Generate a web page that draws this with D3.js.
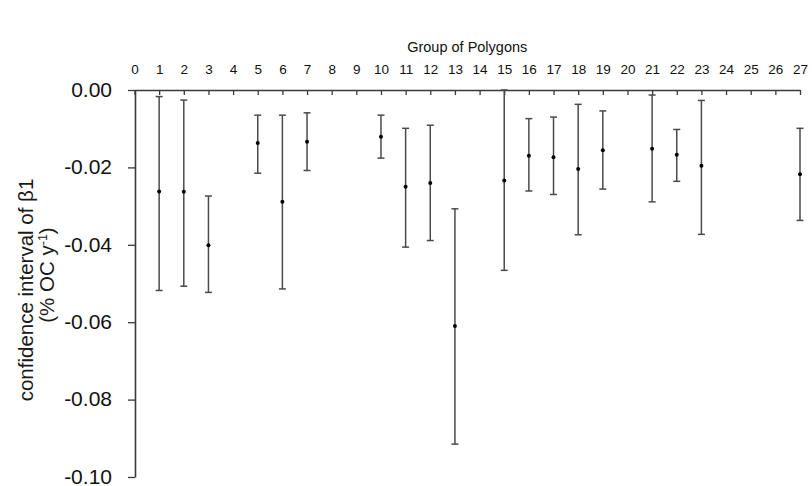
<!DOCTYPE html>
<html>
<head>
<meta charset="utf-8">
<script src="https://cdn.jsdelivr.net/npm/d3@7"></script>
<style>
  html, body { margin: 0; padding: 0; background: #fff; }
  svg { display: block; font-family: "Liberation Sans", Arial, sans-serif; }
</style>
</head>
<body>
<svg id="chart" width="812" height="486"></svg>
<script>
// Groups of polygons and their confidence intervals of beta1
const groups = [1, 2, 3, 5, 6, 7, 10, 11, 12, 13, 15, 16, 17, 18, 19, 21, 22, 23, 27];
const estimate = [-0.0262, -0.0263, -0.0401, -0.0137, -0.0289, -0.0134, -0.0121, -0.0250, -0.0240, -0.0610,
                  -0.0234, -0.0170, -0.0174, -0.0204, -0.0156, -0.0152, -0.0167, -0.0196, -0.0218];
const upper = [-0.0017, -0.0026, -0.0274, -0.0065, -0.0065, -0.0059, -0.0065, -0.0099, -0.0091, -0.0307,
               0.0000, -0.0074, -0.0070, -0.0037, -0.0054, -0.0013, -0.0102, -0.0027, -0.0099];
const lower = [-0.0518, -0.0507, -0.0523, -0.0215, -0.0514, -0.0208, -0.0176, -0.0406, -0.0389, -0.0915,
               -0.0466, -0.0261, -0.0270, -0.0374, -0.0256, -0.0289, -0.0236, -0.0373, -0.0337];
const xTicks = d3.range(0, 28);
const yTicks = [0, -0.02, -0.04, -0.06, -0.08, -0.10];

const rows = groups.map((g, i) => ({ g, est: estimate[i], hi: upper[i], lo: lower[i] }));

const svg = d3.select("#chart");
const x = d3.scaleLinear().domain([0, 27]).range([134.5, 800]);
const y = d3.scaleLinear().domain([0, -0.10]).range([90, 477]);

const axisColor = "#3a3a3a";
const barColor = "#4a4a4a";
const font = "'Liberation Sans', Arial, sans-serif";

// top axis: group numbers, ticks pointing into the plot
const topAxis = svg.append("g").attr("transform", "translate(0,90)")
  .call(d3.axisTop(x).tickValues(xTicks).tickFormat(d3.format("d"))
    .tickSizeInner(-5).tickSizeOuter(0).tickPadding(16));
topAxis.select(".domain").attr("stroke", axisColor).attr("stroke-width", 1.6);
topAxis.selectAll(".tick line").attr("stroke", axisColor).attr("stroke-width", 1.3);
topAxis.selectAll(".tick text").attr("font-size", 13.5).attr("fill", "#111").attr("font-family", font);

// left axis: plain hyphen for the minus sign
const fmt = d => d3.format(".2f")(d).replace("\u2212", "-");
const leftAxis = svg.append("g").attr("transform", "translate(135,0)")
  .call(d3.axisLeft(y).tickValues(yTicks).tickFormat(fmt)
    .tickSizeInner(7).tickSizeOuter(0).tickPadding(16));
leftAxis.select(".domain").attr("stroke", axisColor).attr("stroke-width", 1.6);
leftAxis.selectAll(".tick line").attr("stroke", axisColor).attr("stroke-width", 1.3);
leftAxis.selectAll(".tick text").attr("font-size", 21).attr("fill", "#111").attr("font-family", font)
  .attr("dy", "0.3em");

// axis titles
svg.append("text").attr("x", x(13.5)).attr("y", 52).attr("text-anchor", "middle")
  .attr("font-size", 14.5).attr("fill", "#111").text("Group of Polygons");

svg.append("text").attr("transform", "translate(33,290) rotate(-90)")
  .attr("text-anchor", "middle").attr("font-size", 20.5).attr("fill", "#1a1a1a")
  .text("confidence interval of β1");
const l2 = svg.append("text").attr("transform", "translate(54,275) rotate(-90)")
  .attr("text-anchor", "middle").attr("font-size", 20.5).attr("fill", "#1a1a1a");
l2.append("tspan").text("(% OC y");
l2.append("tspan").attr("dy", -7).attr("font-size", 12.5).text("-1");
l2.append("tspan").attr("dy", 7).text(")");

// error bars: vertical interval, end caps and point estimate
const bars = svg.append("g").selectAll("g").data(rows).join("g");
bars.append("line")
  .attr("x1", d => x(d.g)).attr("x2", d => x(d.g))
  .attr("y1", d => y(d.hi)).attr("y2", d => y(d.lo))
  .attr("stroke", barColor).attr("stroke-width", 1.5);
bars.append("line")
  .attr("x1", d => x(d.g) - 3.5).attr("x2", d => x(d.g) + 3.5)
  .attr("y1", d => y(d.hi)).attr("y2", d => y(d.hi))
  .attr("stroke", barColor).attr("stroke-width", 1.5);
bars.append("line")
  .attr("x1", d => x(d.g) - 3.5).attr("x2", d => x(d.g) + 3.5)
  .attr("y1", d => y(d.lo)).attr("y2", d => y(d.lo))
  .attr("stroke", barColor).attr("stroke-width", 1.5);
bars.append("circle")
  .attr("cx", d => x(d.g)).attr("cy", d => y(d.est)).attr("r", 2)
  .attr("fill", "#000");
</script>
</body>
</html>
